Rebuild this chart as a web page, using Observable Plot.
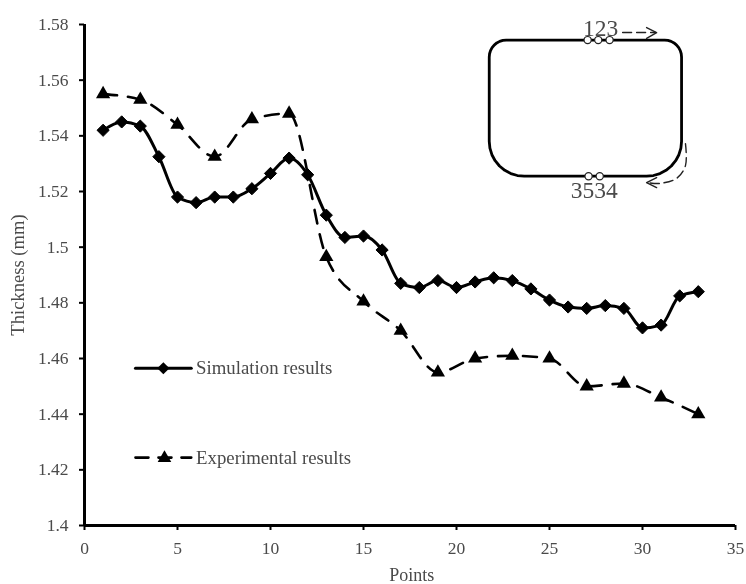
<!DOCTYPE html>
<html><head><meta charset="utf-8">
<style>html,body{margin:0;padding:0;background:#fff}svg{display:block;filter:blur(.45px)}</style>
<script src="https://cdn.jsdelivr.net/npm/d3@7"></script>
<script src="https://cdn.jsdelivr.net/npm/@observablehq/plot@0.6"></script>
</head><body><div id="c"></div>
<script>
const simPoints=[1,2,3,4,5,6,7,8,9,10,11,12,13,14,15,16,17,18,19,20,21,22,23,24,25,26,27,28,29,30,31,32,33];
const simValues=[1.542,1.545,1.5435,1.5325,1.518,1.516,1.518,1.518,1.521,1.5265,1.532,1.526,1.5115,1.5035,1.504,1.499,1.487,1.4855,1.488,1.4855,1.4875,1.489,1.488,1.485,1.481,1.4785,1.478,1.479,1.478,1.471,1.472,1.4825,1.484];
const expPoints=[1,3,5,7,9,11,13,15,17,19,21,23,25,27,29,31,33];
const expValues=[1.555,1.553,1.544,1.5325,1.546,1.548,1.4965,1.4805,1.47,1.455,1.46,1.461,1.46,1.45,1.451,1.446,1.44];
const xTicks=[0,5,10,15,20,25,30,35];
const yTicks=[1.4,1.42,1.44,1.46,1.48,1.5,1.52,1.54,1.56,1.58];
const sim=simPoints.map((x,i)=>({x,y:simValues[i]}));
const exp=expPoints.map((x,i)=>({x,y:expValues[i]}));
const font="Liberation Serif", ink="#4a4a4a";

// inset diagram, in chart units
const insetCorners=[
 {cx:22.67,cy:1.5683,rx:0.91,ry:0.0061,from:180,to:90},
 {cx:31.19,cy:1.5683,rx:0.91,ry:0.0061,from:90,to:0},
 {cx:30.22,cy:1.5380,rx:1.88,ry:0.0125,from:0,to:-90},
 {cx:23.64,cy:1.5380,rx:1.88,ry:0.0125,from:-90,to:-180}
];
const insetOutline=insetCorners.flatMap(c=>d3.range(0,9).map(k=>{
 const a=(c.from+(c.to-c.from)*k/8)*Math.PI/180;
 return {x:c.cx+c.rx*Math.cos(a),y:c.cy+c.ry*Math.sin(a)};
}));
insetOutline.push(insetOutline[0]);
const insetHoles=[[27.05,1.5744],[27.62,1.5744],[28.23,1.5744],[27.1,1.5255],[27.7,1.5255]].map(([x,y])=>({x,y}));
const arrowTop=[[28.93,1.5771],[30.7,1.5771]].map(([x,y])=>({x,y}));
const headTop=[[30.22,1.5789],[30.76,1.5771],[30.22,1.5750]].map(([x,y])=>({x,y}));
const arrowBottom=[[32.31,1.5372],[32.31,1.5293],[31.83,1.5247],[30.92,1.5229],[30.38,1.5231]].map(([x,y])=>({x,y}));
const headBottom=[[30.76,1.5250],[30.22,1.5232],[30.76,1.5214]].map(([x,y])=>({x,y}));
const insetLabels=[{x:27.75,y:1.5785,t:"123"},{x:27.4,y:1.5203,t:"3534"}];
const legendItems=[{x:6.0,y:1.4565,t:"Simulation results"},{x:6.0,y:1.4244,t:"Experimental results"}];

const chart=Plot.plot({
 width:746,height:584,marginLeft:84,marginRight:11,marginTop:24,marginBottom:59,
 style:{fontFamily:font,background:"#fff"},
 x:{domain:[0,35],ticks:xTicks,label:null},
 y:{domain:[1.4,1.58],ticks:yTicks,label:null},
 marks:[
  Plot.axisX({ticks:xTicks,tickSize:5,tickPadding:11,fontSize:17.5,stroke:"#000",strokeWidth:2,color:ink,label:null,tickFormat:String}),
  Plot.axisY({ticks:yTicks,tickSize:5,tickPadding:11,fontSize:17.5,stroke:"#000",strokeWidth:2,color:ink,label:null,tickFormat:String}),
  Plot.ruleX([0],{stroke:"#000",strokeWidth:3}),
  Plot.ruleY([1.4],{stroke:"#000",strokeWidth:3}),
  // series
  Plot.line(exp,{x:"x",y:"y",stroke:"#000",strokeWidth:2.6,strokeDasharray:"14,11",curve:"monotone-x"}),
  Plot.line(sim,{x:"x",y:"y",stroke:"#000",strokeWidth:3,curve:"monotone-x"}),
  Plot.dot(sim,{x:"x",y:"y",symbol:"diamond2",r:5.5,fill:"#000",stroke:"#000",strokeWidth:1}),
  Plot.dot(exp,{x:"x",y:"y",symbol:"triangle2",r:6.8,fill:"#000"}),
  // legend
  Plot.line([{x:2.74,y:1.4565},{x:5.74,y:1.4565}],{x:"x",y:"y",stroke:"#000",strokeWidth:3}),
  Plot.dot([{x:4.24,y:1.4565}],{x:"x",y:"y",symbol:"diamond2",r:5.5,fill:"#000"}),
  Plot.line([{x:2.74,y:1.4244},{x:5.74,y:1.4244}],{x:"x",y:"y",stroke:"#000",strokeWidth:2.6,strokeDasharray:"13,10"}),
  Plot.dot([{x:4.3,y:1.4242}],{x:"x",y:"y",symbol:"triangle2",r:6.5,fill:"#000"}),
  Plot.text(legendItems,{x:"x",y:"y",text:"t",textAnchor:"start",fontSize:18.8,fill:ink}),
  // inset
  Plot.line(insetOutline,{x:"x",y:"y",stroke:"#000",strokeWidth:2.8}),
  Plot.dot(insetHoles,{x:"x",y:"y",r:3.6,fill:"#fff",stroke:"#222",strokeWidth:1.2}),
  Plot.line(arrowTop,{x:"x",y:"y",stroke:"#222",strokeWidth:1.4,strokeDasharray:"9,5"}),
  Plot.line(headTop,{x:"x",y:"y",stroke:"#222",strokeWidth:1.4}),
  Plot.line(arrowBottom,{x:"x",y:"y",stroke:"#222",strokeWidth:1.4,strokeDasharray:"9,5",curve:"catmull-rom"}),
  Plot.line(headBottom,{x:"x",y:"y",stroke:"#222",strokeWidth:1.4}),
  Plot.text(insetLabels,{x:"x",y:"y",text:"t",fontSize:23.5,fill:ink}),
  // axis titles
  Plot.text(["Points"],{x:17.6,y:1.4,dy:50,frameAnchor:"middle",fontSize:18,fill:ink}),
  Plot.text(["Thickness (mm)"],{frameAnchor:"left",textAnchor:"middle",dx:-66,rotate:-90,fontSize:18.6,fill:ink})
 ]
});
document.getElementById("c").append(chart);
</script></body></html>
